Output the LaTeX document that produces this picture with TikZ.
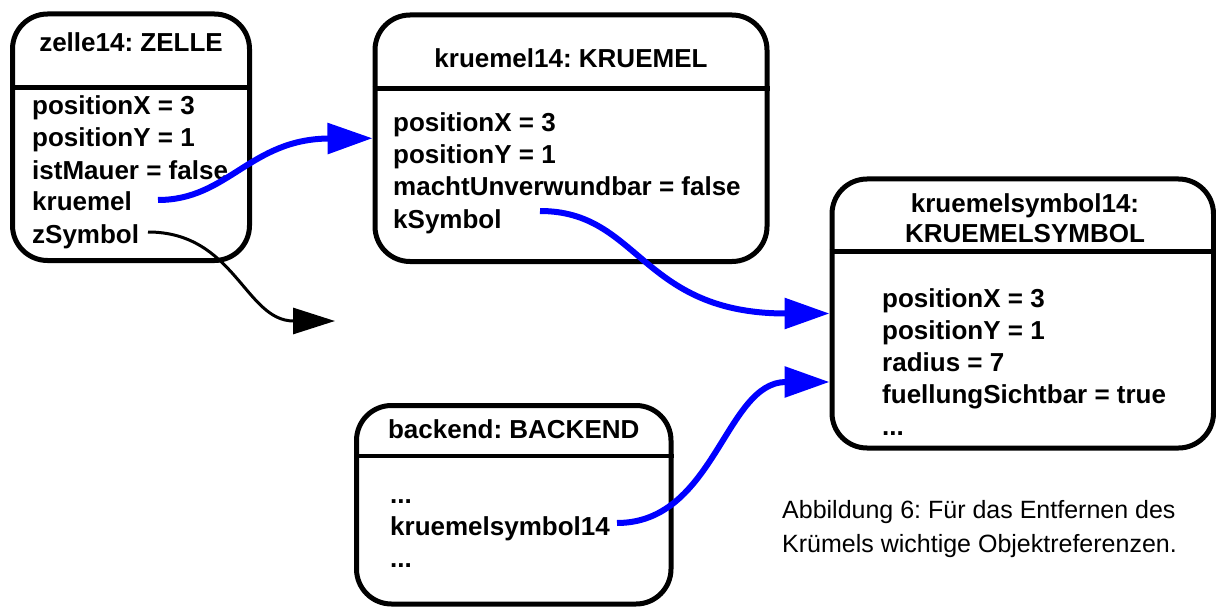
\documentclass[tikz,border=0pt]{standalone}
\usepackage{fontspec}
\setmainfont{Liberation Sans}
\usetikzlibrary{arrows.meta}
\frenchspacing
\begin{document}
\begin{tikzpicture}[x=1pt,y=-1pt,
  objbox/.style={draw, line width=5pt, rounded corners=35pt, inner sep=0pt},
  sepline/.style={line width=4.5pt},
  attr/.style={font=\bfseries\fontsize{26}{32}\selectfont, inner sep=0pt, anchor=base west},
  ttl/.style={font=\bfseries\fontsize{26}{32}\selectfont, inner sep=0pt, anchor=base},
  captext/.style={font=\fontsize{25}{32}\selectfont, inner sep=0pt, anchor=base west},
  bluelink/.style={draw=blue, line width=6pt, -{Triangle[length=45pt,width=30pt]}},
  blacklink/.style={draw=black, line width=3pt, -{Triangle[length=42pt,width=26pt]}}
]
\useasboundingbox[fill=white] (0,0) rectangle (1216,607);

% object boxes
\node[objbox, minimum width=237pt, minimum height=246.5pt] (ze) at (131,137.25) {};
\node[objbox, minimum width=392pt, minimum height=246.5pt] (kr) at (571,138.25) {};
\node[objbox, minimum width=381.5pt, minimum height=269pt] (ks) at (1022.75,313.5) {};
\node[objbox, minimum width=314.5pt, minimum height=198.5pt] (be) at (513.75,504.75) {};

% header separators
\coordinate (ze-sep) at (0,87.5);
\coordinate (kr-sep) at (0,88.5);
\coordinate (ks-sep) at (0,251.5);
\coordinate (be-sep) at (0,456);
\draw[sepline] (ze.west |- ze-sep) -- (ze.east |- ze-sep);
\draw[sepline] (kr.west |- kr-sep) -- (kr.east |- kr-sep);
\draw[sepline] (ks.west |- ks-sep) -- (ks.east |- ks-sep);
\draw[sepline] (be.west |- be-sep) -- (be.east |- be-sep);

% zelle14
\node[ttl] (ze-title) at (131,52) {zelle14: ZELLE};
\node[attr] (ze-px) at (32,115) {positionX = 3};
\node[attr] (ze-py) at (32,147) {positionY = 1};
\node[attr] (ze-mauer) at (32,179) {istMauer = false};
\node[attr] (ze-kruemel) at (32,211) {kruemel};
\node[attr] (ze-symbol) at (32,243) {zSymbol};

% kruemel14
\node[ttl] (kr-title) at (571,68) {kruemel14: KRUEMEL};
\node[attr] (kr-px) at (393,132) {positionX = 3};
\node[attr] (kr-py) at (393,164) {positionY = 1};
\node[attr] (kr-macht) at (393,196) {machtUnverwundbar = false};
\node[attr] (kr-symbol) at (393,228) {kSymbol};

% kruemelsymbol14
\node[ttl] (ks-title1) at (1025,212) {kruemelsymbol14:};
\node[ttl] (ks-title2) at (1025,242) {KRUEMELSYMBOL};
\node[attr] (ks-px) at (882,307) {positionX = 3};
\node[attr] (ks-py) at (882,339) {positionY = 1};
\node[attr] (ks-radius) at (882,371) {radius = 7};
\node[attr] (ks-fill) at (882,403) {fuellungSichtbar = true};
\node[attr] (ks-more) at (882,435) {...};

% backend
\node[ttl] (be-title) at (513.75,438) {backend: BACKEND};
\node[attr] (be-more1) at (390,503) {...};
\node[attr] (be-ks) at (390,535) {kruemelsymbol14};
\node[attr] (be-more2) at (390,567) {...};

% caption
\node[captext] (cap1) at (782,518) {Abbildung 6: Für das Entfernen des};
\node[captext] (cap2) at (782,552) {Krümels wichtige Objektreferenzen.};

% references
\coordinate (p-kruemel) at (158,200);
\coordinate (p-zsymbol) at (148,232);
\coordinate (z-target) at (335,321);
\coordinate (p-ksymbol) at (540,211);
\coordinate (p-backend) at (617,523);

\draw[bluelink] (p-kruemel) .. controls (228,200) and (250,139) .. (kr.west);
\draw[blacklink] (p-zsymbol) .. controls (235,232) and (245,321) .. (z-target);
\draw[bluelink] (p-ksymbol) .. controls (640,211) and (640,313.5) .. (ks.west);
\draw[bluelink] (p-backend) .. controls (715,523) and (725,382) .. ([yshift=-68.5pt]ks.west);
\end{tikzpicture}
\end{document}
